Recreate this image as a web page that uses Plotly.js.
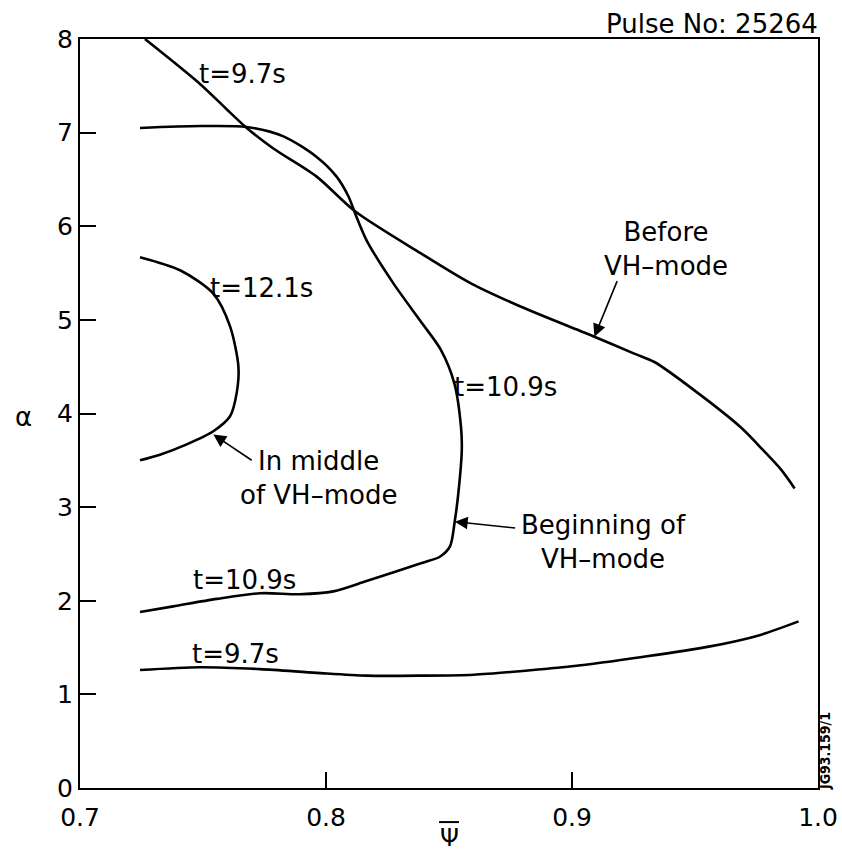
<!DOCTYPE html>
<html>
<head>
<meta charset="utf-8">
<script src="https://cdn.plot.ly/plotly-3.0.1.min.js"></script>
<style>
  html, body { margin: 0; padding: 0; background: #fff; }
  #chart { width: 842px; height: 856px; }
</style>
</head>
<body>
<div id="chart"></div>
<script>
// Normalised pressure gradient alpha versus normalised flux psi-bar, pulse 25264.

// t = 9.7 s, upper branch (before VH-mode)
const t97UpperPsi   = [0.7264, 0.7488, 0.7596, 0.7678, 0.7786, 0.7962, 0.8118, 0.8386, 0.8589, 0.8793, 0.9091, 0.9253, 0.9335, 0.9511, 0.9687, 0.9780, 0.9850, 0.9905];
const t97UpperAlpha = [8.00,   7.52,   7.25,   7.05,   6.83,   6.53,   6.16,   5.71,   5.39,   5.14,   4.82,   4.64,   4.55,   4.22,   3.85,   3.60,   3.40,   3.20];

// t = 10.9 s (beginning of VH-mode), upper and lower branch joined
const t109Psi   = [0.7244, 0.7488, 0.7678, 0.7827, 0.7962, 0.8043, 0.8091, 0.8118, 0.8165, 0.8274, 0.8386, 0.8467, 0.8522, 0.8549, 0.8552, 0.8540, 0.8524, 0.8504, 0.8463, 0.8386, 0.8165, 0.8030, 0.7894, 0.7732, 0.7556, 0.7379, 0.7244];
const t109Alpha = [7.05,   7.07,   7.06,   6.96,   6.74,   6.53,   6.32,   6.14,   5.85,   5.39,   4.98,   4.68,   4.32,   3.85,   3.61,   3.20,   2.86,   2.58,   2.47,   2.40,   2.21,   2.10,   2.07,   2.08,   2.02,   1.94,   1.88];

// t = 12.1 s (in middle of VH-mode)
const t121Psi   = [0.7244, 0.7407, 0.7542, 0.7610, 0.7644, 0.7637, 0.7610, 0.7542, 0.7434, 0.7325, 0.7244];
const t121Alpha = [5.67,   5.53,   5.28,   4.93,   4.50,   4.22,   3.97,   3.81,   3.67,   3.56,   3.50];

// t = 9.7 s, lower branch
const t97LowerPsi   = [0.7244, 0.7488, 0.7732, 0.7962, 0.8165, 0.8386, 0.8600, 0.8800, 0.9000, 0.9285, 0.9556, 0.9759, 0.9921];
const t97LowerAlpha = [1.26,   1.29,   1.27,   1.23,   1.20,   1.20,   1.21,   1.25,   1.30,   1.40,   1.51,   1.63,   1.78];

const xTicks = [0.7, 0.8, 0.9, 1.0];
const xTickText = ['0.7', '0.8', '0.9', '1.0'];
const yTicks = [0, 1, 2, 3, 4, 5, 6, 7, 8];

// curve labels: [text, psi, alpha]
const curveLabels = [
  ['t=9.7s', 0.7661, 7.63],
  ['t=12.1s', 0.7736, 5.34],
  ['t=10.9s', 0.8728, 4.28],
  ['t=10.9s', 0.7667, 2.22],
  ['t=9.7s', 0.7634, 1.43]
];

// callouts: [text, text psi, text alpha, arrow tail psi, tail alpha, tip psi, tip alpha]
const callouts = [
  ['Before<br>VH\u2013mode', 0.9382, 5.76, 0.9186, 5.43, 0.9091, 4.82],
  ['Beginning of<br>VH\u2013mode', 0.9130, 2.63, 0.8775, 2.775, 0.8524, 2.845],
  ['In middle<br>of VH\u2013mode', 0.7970, 3.31, 0.7704, 3.49, 0.7542, 3.775]
];

const FONT = 'DejaVu Sans, Arial, sans-serif';
const lineStyle = { color: '#000', width: 2.6, shape: 'spline', smoothing: 0.8 };

const traces = [
  { x: t97UpperPsi, y: t97UpperAlpha },
  { x: t109Psi, y: t109Alpha },
  { x: t121Psi, y: t121Alpha },
  { x: t97LowerPsi, y: t97LowerAlpha }
].map(d => Object.assign({ type: 'scatter', mode: 'lines', line: lineStyle, hoverinfo: 'skip', cliponaxis: true }, d));

const annotations = [];
curveLabels.forEach(([text, x, y]) => {
  annotations.push({ text, x, y, xref: 'x', yref: 'y', showarrow: false,
    xanchor: 'center', yanchor: 'middle', font: { family: FONT, size: 26, color: '#000' } });
});
callouts.forEach(([text, tx, ty, ax, ay, x, y]) => {
  annotations.push({ text, x: tx, y: ty, xref: 'x', yref: 'y', showarrow: false, align: 'center',
    xanchor: 'center', yanchor: 'middle', font: { family: FONT, size: 26, color: '#000' } });
  annotations.push({ text: '', x, y, ax, ay, xref: 'x', yref: 'y', axref: 'x', ayref: 'y',
    showarrow: true, arrowhead: 2, arrowsize: 1.6, arrowwidth: 1.6, arrowcolor: '#000', standoff: 0, startstandoff: 0 });
});
// axis symbols and figure text
annotations.push({ text: '\u03b1', xref: 'paper', yref: 'paper', x: -0.077, y: 0.495, showarrow: false,
  xanchor: 'center', yanchor: 'middle', font: { family: FONT, size: 26, color: '#000' } });
annotations.push({ text: '\u03a8', xref: 'paper', yref: 'paper', x: 0.5, y: -0.067, showarrow: false,
  xanchor: 'center', yanchor: 'middle', font: { family: FONT, size: 24, color: '#000' } });
annotations.push({ text: 'Pulse No: 25264', xref: 'paper', yref: 'paper', x: 1.003, y: 1.02, showarrow: false,
  xanchor: 'right', yanchor: 'middle', font: { family: FONT, size: 26, color: '#000' } });
annotations.push({ text: 'JG93.159/1', xref: 'paper', yref: 'paper', x: 1.0105, y: 0.049, showarrow: false,
  textangle: -90, xanchor: 'center', yanchor: 'middle',
  font: { family: 'DejaVu Sans Condensed, DejaVu Sans, sans-serif', size: 14, weight: 'bold', color: '#000' } });

// overbar of the psi-bar axis symbol
const shapes = [{ type: 'line', xref: 'paper', yref: 'paper', x0: 0.4865, x1: 0.5135, y0: -0.0455, y1: -0.0455,
  line: { color: '#000', width: 2 } }];

const axisCommon = {
  showgrid: false, zeroline: false, showline: true, linecolor: '#000', linewidth: 2, mirror: true,
  ticks: 'inside', ticklen: 16, tickwidth: 2, tickcolor: '#000',
  tickfont: { family: FONT, size: 25, color: '#000' }, fixedrange: true
};

const layout = {
  width: 842, height: 856,
  margin: { l: 80, r: 24, t: 39, b: 68 },
  paper_bgcolor: '#fff', plot_bgcolor: '#fff',
  showlegend: false,
  xaxis: Object.assign({}, axisCommon, { range: [0.7, 1.0], tickvals: xTicks, ticktext: xTickText, ticklabelstandoff: 6 }),
  yaxis: Object.assign({}, axisCommon, { range: [0, 8], tickvals: yTicks }),
  annotations, shapes
};

Plotly.newPlot('chart', traces, layout, { staticPlot: true, displayModeBar: false });
</script>
</body>
</html>
